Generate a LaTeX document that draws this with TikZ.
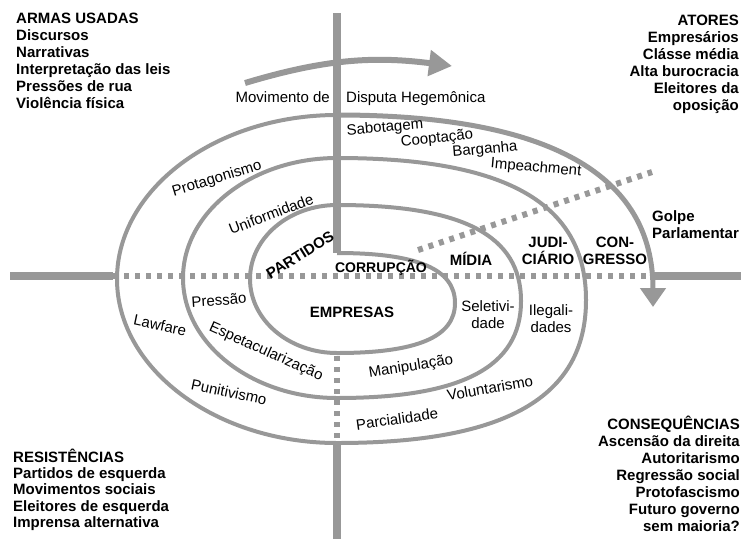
\documentclass[tikz,border=0pt]{standalone}
\usepackage{fontspec}
\setmainfont{Liberation Sans}
\usetikzlibrary{arrows.meta,positioning}
\definecolor{spiralgray}{RGB}{152,152,152}

\begin{document}
\begin{tikzpicture}
  [x=1pt,y=-1pt,
   ring/.style={draw=spiralgray,line width=4pt},
   bar/.style={draw=spiralgray,line width=7.5pt},
   dotbar/.style={draw=spiralgray,line width=6pt,dash pattern=on 5pt off 6pt},
   corner/.style={font=\fontsize{15}{17}\selectfont\bfseries,inner sep=0pt},
   sector/.style={font=\fontsize{15}{17}\selectfont\bfseries,inner sep=0pt,align=center},
   tactic/.style={font=\fontsize{15}{17}\selectfont,inner sep=0pt,align=center}]
  \useasboundingbox (0,0) rectangle (746,539);

  % axes
  \coordinate (axis top)      at (337,13);
  \coordinate (spiral start)  at (337,253);
  \coordinate (inner bottom)  at (337,356);
  \coordinate (outer bottom)  at (337,441);
  \coordinate (axis bottom)   at (337,539);
  \coordinate (axis left)     at (10,276);
  \coordinate (outer left)    at (113,276);
  \coordinate (arrow right)   at (650,276);
  \coordinate (axis right)    at (741,276);
  \coordinate (golpe tip)     at (653,307);
  \coordinate (spiral outer)  at (337,115);
  \coordinate (diag start)    at (418,250);
  \coordinate (diag end)      at (652,172);
  \coordinate (movimento tail) at (245,83);
  \coordinate (movimento head) at (452,66);

  \draw[bar] (axis top) -- (spiral start);
  \draw[dotbar] (inner bottom) -- (outer bottom);
  \draw[bar] (outer bottom) -- (axis bottom);
  \draw[bar] (axis left) -- (outer left);
  \draw[dotbar] (outer left) -- (arrow right);
  \draw[bar] (arrow right) -- (axis right);
  \draw[dotbar] (diag start) -- (diag end);

  % spiral
  \draw[ring] (spiral start)
    .. controls +(80,0) and +(0,-34) .. (455,303)
    .. controls +(0,34) and +(80,0) .. (337,353)
    .. controls +(-48,0) and +(0,41) .. (250,279)
    .. controls +(0,-41) and +(-48,0) .. (337,205)
    .. controls +(125,0) and +(0,-66) .. (521,301)
    .. controls +(0,66) and +(125,0) .. (337,398)
    .. controls +(-85,0) and +(0,66) .. (183,278)
    .. controls +(0,-66) and +(-85,0) .. (337,158)
    .. controls +(169,0) and +(0,-97) .. (586,300)
    .. controls +(0,97) and +(169,0) .. (337,443)
    .. controls +(-121,0) and +(0,90) .. (117,279)
    .. controls +(0,-90) and +(-121,0) .. (spiral outer);
  \draw[ring,line width=5pt,-{Triangle[length=19pt,width=25pt]}] (spiral outer)
    .. controls +(215,0) and +(0,-131) .. (golpe tip);
  \draw[draw=spiralgray,line width=6pt,-{Triangle[length=23pt,width=25pt]}]
    (movimento tail) to[bend left=12] (movimento head);

  % corner lists
  \node[corner,anchor=north west,align=left] (armas) at (16,13)
    {ARMAS USADAS\\Discursos\\Narrativas\\Interpretação das leis\\Pressões de rua\\Violência física};
  \node[corner,anchor=north east,align=right] (atores) at (739,15)
    {ATORES\\Empresários\\Clásse média\\Alta burocracia\\Eleitores da\\oposição};
  \node[corner,anchor=south west,align=left,font=\fontsize{15}{16.4}\selectfont\bfseries] (resistencias) at (13,531)
    {RESISTÊNCIAS\\Partidos de esquerda\\Movimentos sociais\\Eleitores de esquerda\\Imprensa alternativa};
  \node[corner,anchor=south east,align=right] (consequencias) at (740,532)
    {CONSEQUÊNCIAS\\Ascensão da direita\\Autoritarismo\\Regressão social\\Protofascismo\\Futuro governo\\sem maioria?};
  \node[corner,anchor=north west,align=left] (golpe) at (652,210) {Golpe\\Parlamentar};

  % sectors
  \node[sector,anchor=base,font=\fontsize{14}{17}\selectfont\bfseries] (corrupcao) at (381,272) {CORRUPÇÃO};
  \node[sector,anchor=base] (empresas) at (352,317) {EMPRESAS};
  \node[sector,anchor=base] (midia) at (471,265) {MÍDIA};
  \node[sector,anchor=south] (judiciario) at (548,265) {JUDI-\\CIÁRIO};
  \node[sector,anchor=south] (congresso) at (615,265) {CON-\\GRESSO};
  \node[sector,rotate=32] (partidos) at (300,255) {PARTIDOS};

  % tactics along the rings
  \node[tactic,anchor=base east] (movimento) at (330,102) {Movimento de};
  \node[tactic,anchor=base west] (disputa) at (346,102) {Disputa Hegemônica};
  \node[tactic,rotate=5] (sabotagem) at (385,128) {Sabotagem};
  \node[tactic,rotate=6] (cooptacao) at (437,139) {Cooptação};
  \node[tactic,rotate=5] (barganha) at (485,150) {Barganha};
  \node[tactic,rotate=-5] (impeachment) at (536,168) {Impeachment};
  \node[tactic,rotate=17] (protagonismo) at (217,179) {Protagonismo};
  \node[tactic,rotate=21] (uniformidade) at (271,214) {Uniformidade};
  \node[tactic,rotate=4] (pressao) at (219,300) {Pressão};
  \node[tactic,rotate=-12] (lawfare) at (160,325) {Lawfare};
  \node[tactic,rotate=-24] (espetacularizacao) at (266,352) {Espetacularização};
  \node[tactic,rotate=-12] (punitivismo) at (229,392) {Punitivismo};
  \node[tactic,rotate=9] (manipulacao) at (411,367) {Manipulação};
  \node[tactic,rotate=8] (parcialidade) at (397,419) {Parcialidade};
  \node[tactic,rotate=10] (voluntarismo) at (490,388) {Voluntarismo};
  \node[tactic,anchor=north] (seletividade) at (488,300) {Seletivi-\\dade};
  \node[tactic,anchor=north] (ilegalidades) at (551,304) {Ilegali-\\dades};
\end{tikzpicture}
\end{document}
